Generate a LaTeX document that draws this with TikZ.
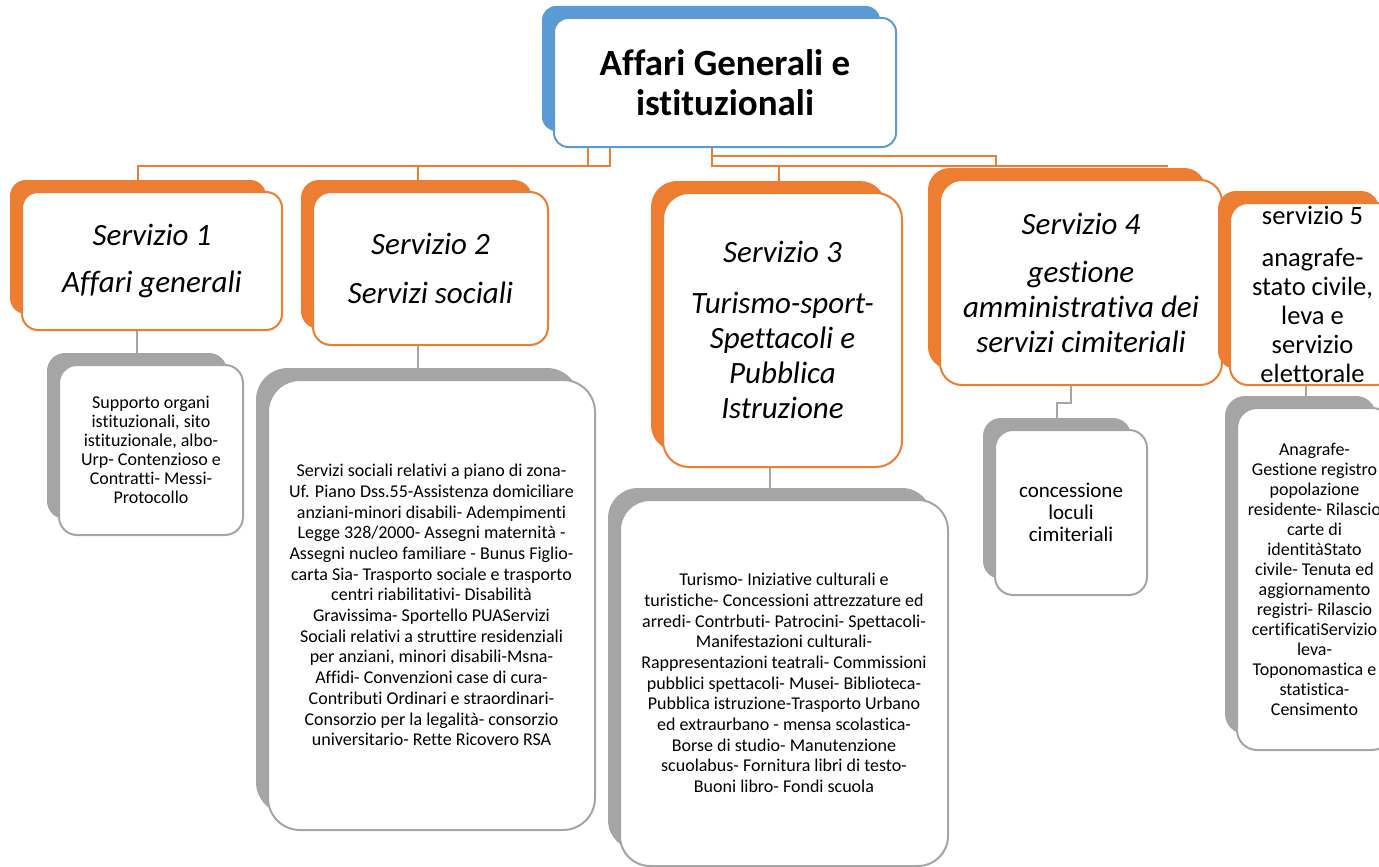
\documentclass[tikz,border=0pt]{standalone}
\usepackage{fontspec}
\setmainfont[Ligatures=NoCommon]{Carlito}
\definecolor{oran}{HTML}{ED7D31}
\definecolor{blu}{HTML}{5B9BD5}
\definecolor{gry}{HTML}{A5A5A5}
\tikzset{
  backshape/.style 2 args={fill=#1, draw=none, inner sep=0pt, outer sep=0pt, rounded corners=#2},
  frontshape/.style 2 args={fill=white, draw=#1, line width=2pt, inner sep=0pt, align=center, rounded corners=#2},
  oconn/.style={draw=oran, line width=2pt},
  gconn/.style={draw=gry, line width=2pt},
  titlefont/.style={font=\fontsize{37}{40}\selectfont\bfseries},
  svcfont/.style={font=\fontsize{31}{35}\selectfont\itshape},
  svcfivefont/.style={font=\fontsize{26.5}{29}\selectfont},
  detfont/.style={font=\fontsize{18}{20.7}\selectfont},
  detonefont/.style={font=\fontsize{18}{19}\selectfont},
  detfourfont/.style={font=\fontsize{21}{22}\selectfont},
  detfivefont/.style={font=\fontsize{18}{20}\selectfont}
}
% #1 name, #2 colour, #3 left, #4 top, #5 right, #6 bottom, #7 radius, #8 font style, #9 text
\newcommand{\twobox}[9]{%
  \node[backshape={#2}{#7}, minimum width={#5-#3-4}, minimum height={#6-#4-4}] (#1b) at ({(#3+#5)/2-14},{(#4+#6)/2-14}) {};
  \node[frontshape={#2}{#7}, #8, minimum width={#5-#3}, minimum height={#6-#4}] (#1) at ({(#3+#5)/2},{(#4+#6)/2}) {#9};
}
\begin{document}
\begin{tikzpicture}[x=1pt,y=-1pt]
\useasboundingbox (0,0) rectangle (1379,867);
\clip (0,0) rectangle (1379,867);

\twobox{top}{blu}{554}{18}{896}{147}{14pt}{titlefont}{Affari Generali e\\istituzionali}

\twobox{sa}{oran}{22}{192}{282}{330}{16pt}{svcfont}{Servizio 1\\[12pt]Affari generali}
\twobox{sb}{oran}{313}{192}{548}{345}{18pt}{svcfont}{Servizio 2\\[14pt]Servizi sociali}
\twobox{sc}{oran}{663}{193}{902}{467}{26pt}{svcfont}{Servizio 3\\[16pt]Turismo-sport-\\Spettacoli e\\Pubblica\\Istruzione}
\twobox{sd}{oran}{940}{180}{1222}{385}{22pt}{svcfont}{Servizio 4\\[13pt]gestione\\amministrativa dei\\servizi cimiteriali}
\twobox{se}{oran}{1230}{203}{1395}{385}{18pt}{svcfivefont}{servizio 5\\[13pt]anagrafe-\\stato civile,\\leva e\\servizio\\elettorale}

\twobox{ga}{gry}{59}{365}{243}{535}{18pt}{detonefont}{Supporto organi\\istituzionali, sito\\istituzionale, albo-\\Urp- Contenzioso e\\Contratti- Messi-\\Protocollo}
\twobox{gb}{gry}{268}{380}{595}{830}{32pt}{detfont}{Servizi sociali relativi a piano di zona-\\Uf. Piano Dss.55-Assistenza domiciliare\\anziani-minori disabili- Adempimenti\\Legge 328/2000- Assegni maternità -\\Assegni nucleo familiare - Bunus Figlio-\\carta Sia- Trasporto sociale e trasporto\\centri riabilitativi- Disabilità\\Gravissima- Sportello PUAServizi\\Sociali relativi a struttire residenziali\\per anziani, minori disabili-Msna-\\Affidi- Convenzioni case di cura-\\Contributi Ordinari e straordinari-\\Consorzio per la legalità- consorzio\\universitario- Rette Ricovero RSA}
\twobox{gc}{gry}{620}{500}{948}{866}{30pt}{detfont}{Turismo- Iniziative culturali e\\turistiche- Concessioni attrezzature ed\\arredi- Contrbuti- Patrocini- Spettacoli-\\Manifestazioni culturali-\\Rappresentazioni teatrali- Commissioni\\pubblici spettacoli- Musei- Biblioteca-\\Pubblica istruzione-Trasporto Urbano\\ed extraurbano - mensa scolastica-\\Borse di studio- Manutenzione\\scuolabus- Fornitura libri di testo-\\Buoni libro- Fondi scuola}
\twobox{gd}{gry}{995}{430}{1147}{595}{18pt}{detfourfont}{concessione\\loculi\\cimiteriali}
\twobox{ge}{gry}{1237}{408}{1392}{750}{20pt}{detfivefont}{Anagrafe-\\Gestione registro\\popolazione\\residente- Rilascio\\carte di\\identitàStato\\civile- Tenuta ed\\aggiornamento\\registri- Rilascio\\certificatiServizio\\leva-\\Toponomastica e\\statistica-\\Censimento}

% orange connectors
\coordinate (j0) at (138,166);
\coordinate (j1) at (588,166);
\coordinate (j2) at (610,166);
\coordinate (k2) at (418,166);
\coordinate (j3) at (712,156);
\coordinate (j4) at (712,166);
\coordinate (j5) at (996,156);
\coordinate (j6) at (996,166);
\coordinate (j7) at (1168,166);
\coordinate (k3) at (779,166);
\draw[oconn] (top.south -| j1) -- (j1);
\draw[oconn] (top.south -| j2) -- (j2) -- (j0) -- (j0 |- sab.north);
\draw[oconn] (k2) -- (k2 |- sbb.north);
\draw[oconn] (top.south -| j3) -- (j4) -- (j7);
\draw[oconn] (j3) -- (j5) -- (j6);
\draw[oconn] (k3) -- (k3 |- scb.north);

% gray connectors
\coordinate (e1) at (1071,403);
\coordinate (e2) at (1306,390);
\draw[gconn] (sa.south -| gab.north) -- (gab.north);
\draw[gconn] (sb.south -| gbb.north) -- (gbb.north);
\draw[gconn] (sc.south -| gcb.north) -- (gcb.north);
\draw[gconn] (sd.south -| e1) -- (e1) -| (gdb.north);
\draw[gconn] (se.south -| e2) -- (e2 |- geb.north);
\end{tikzpicture}
\end{document}
